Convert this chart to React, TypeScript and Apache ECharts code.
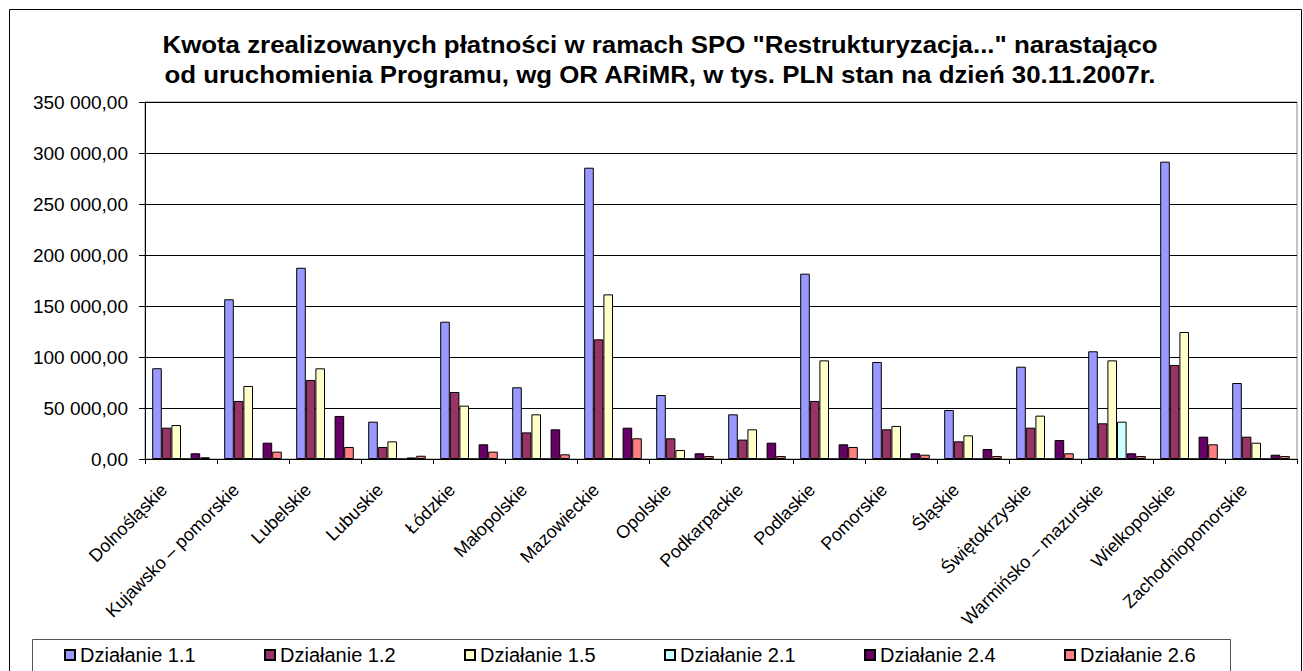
import React, { useEffect, useRef } from "react";
import * as echarts from "echarts";

const categories = [
  "Dolnośląskie",
  "Kujawsko – pomorskie",
  "Lubelskie",
  "Lubuskie",
  "Łódzkie",
  "Małopolskie",
  "Mazowieckie",
  "Opolskie",
  "Podkarpackie",
  "Podlaskie",
  "Pomorskie",
  "Śląskie",
  "Świętokrzyskie",
  "Warmińsko – mazurskie",
  "Wielkopolskie",
  "Zachodniopomorskie",
];

const seriesNames = [
  "Działanie 1.1",
  "Działanie 1.2",
  "Działanie 1.5",
  "Działanie 2.1",
  "Działanie 2.4",
  "Działanie 2.6",
];

const d11 = [89000, 156600, 187500, 36600, 134600, 70300, 285600, 62700, 43800, 181700, 95100, 48000, 90500, 105600, 291500, 74500];
const d12 = [30700, 56900, 77500, 11800, 65700, 26100, 117300, 20300, 19000, 56900, 29100, 17300, 30700, 35000, 92200, 21900];
const d15 = [33300, 71600, 88900, 17300, 52300, 43800, 161400, 8800, 29100, 96700, 32400, 23200, 42500, 96700, 124500, 16000];
const d21 = [0, 0, 0, 0, 0, 0, 0, 0, 0, 0, 0, 0, 0, 36600, 0, 0];
const d24 = [5600, 16000, 42200, 1500, 14400, 29100, 30700, 5600, 16000, 14400, 5600, 9800, 18600, 5600, 21900, 4200];
const d26 = [1700, 7200, 11800, 3200, 7200, 4600, 20300, 2900, 2900, 11800, 4200, 2900, 5600, 2900, 14400, 2900];

const seriesData = [d11, d12, d15, d21, d24, d26];
const colors = ["#9999FF", "#993366", "#FFFFCC", "#CCFFFF", "#660066", "#FF8080"];

const titleLines = [
  'Kwota zrealizowanych płatności w ramach SPO "Restrukturyzacja..." narastająco',
  "od uruchomienia Programu, wg OR ARiMR, w tys. PLN stan na dzień 30.11.2007r.",
];

const FONT = "'Liberation Sans', Arial, sans-serif";

function fmt(v: number): string {
  return String(Math.round(v)).replace(/\B(?=(\d{3})+(?!\d))/g, " ") + ",00";
}

export default function App() {
  const ref = useRef<HTMLDivElement>(null);

  useEffect(() => {
    if (!ref.current) return;
    const chart = echarts.init(ref.current, null, { renderer: "svg" });

    const legends = seriesNames.map((name, i) => ({
      data: [name],
      left: 64 + 200 * i,
      top: 645,
      padding: 0,
      itemWidth: 10,
      itemHeight: 10,
      itemGap: 0,
      icon: "rect",
      textStyle: { fontSize: 20, fontFamily: FONT, color: "#000" },
    }));

    chart.setOption({
      animation: false,
      backgroundColor: "#fff",
      color: colors,
      graphic: [
        {
          type: "rect",
          shape: { x: 9.5, y: 9.5, width: 1292, height: 700 },
          style: { fill: "none", stroke: "#000", lineWidth: 1 },
          silent: true,
        },
        {
          type: "rect",
          shape: { x: 32.5, y: 639.5, width: 1198, height: 60 },
          style: { fill: "none", stroke: "#555", lineWidth: 1 },
          silent: true,
        },
        ...titleLines.map((t, i) => ({
          type: "text",
          x: 660,
          y: 45 + 30 * i,
          scaleX: 1.1,
          style: {
            text: t,
            fontSize: 23.5,
            fontWeight: "bold",
            fontFamily: FONT,
            fill: "#000",
            textAlign: "center",
            textVerticalAlign: "middle",
          },
          silent: true,
        })),
      ],
      legend: legends,
      grid: {
        left: 145,
        right: 6,
        top: 102,
        bottom: 212,
        show: true,
        borderColor: "#888",
        borderWidth: 1,
      },
      xAxis: {
        type: "category",
        data: categories,
        axisLine: { show: true, lineStyle: { color: "#000", width: 1 } },
        axisTick: { show: true, length: 5, alignWithLabel: false, lineStyle: { color: "#000" } },
        axisLabel: {
          interval: 0,
          rotate: 45,
          margin: 11,
          padding: [0, 24, 0, 0],
          fontSize: 18,
          fontFamily: FONT,
          color: "#000",
        },
        splitLine: { show: false },
      },
      yAxis: {
        type: "value",
        min: 0,
        max: 350000,
        interval: 50000,
        axisLine: { show: true, lineStyle: { color: "#000", width: 1 } },
        axisTick: { show: true, length: 6, lineStyle: { color: "#000" } },
        axisLabel: {
          margin: 17,
          fontSize: 19,
          fontFamily: FONT,
          color: "#000",
          formatter: (v: number) => fmt(v),
        },
        splitLine: { show: true, lineStyle: { color: "#000", width: 1 } },
      },
      series: seriesNames.map((name, i) => ({
        name,
        type: "bar",
        data: seriesData[i],
        barGap: "0%",
        barCategoryGap: "20%",
        itemStyle: { color: colors[i], borderColor: "#000", borderWidth: 1 },
      })),
    });

    return () => {
      chart.dispose();
    };
  }, []);

  return (
    <div
      ref={ref}
      style={{ position: "fixed", left: 0, top: 0, width: 1303, height: 671 }}
    />
  );
}
